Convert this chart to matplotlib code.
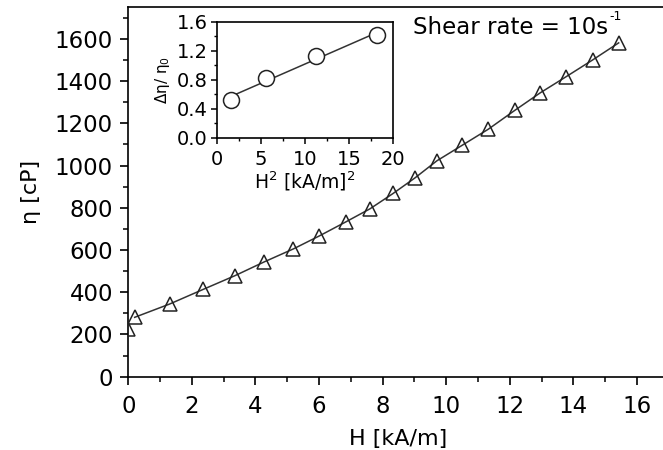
import numpy as np
import matplotlib
matplotlib.use('Agg')
import matplotlib.pyplot as plt
from matplotlib.ticker import MultipleLocator

# main curve: viscosity vs field
H = [0.0, 0.2, 1.3, 2.35, 3.35, 4.28, 5.19, 6.0, 6.84, 7.6,
     8.33, 9.02, 9.7, 10.5, 11.32, 12.16, 12.95, 13.76, 14.6, 15.42]
eta = [228, 281, 344, 413, 478, 544, 605, 666, 733, 795,
       868, 942, 1022, 1096, 1172, 1262, 1344, 1420, 1500, 1581]

# inset: relative viscosity change vs H^2
H2 = [1.59, 5.55, 11.2, 18.2]
d_eta = [0.52, 0.82, 1.12, 1.42]

plt.rcParams['font.family'] = 'DejaVu Sans'
plt.rcParams['axes.linewidth'] = 1.2

fig = plt.figure(figsize=(6.63, 4.5), dpi=100)

# main axes (right spine falls off the canvas, as in the reference)
ax = fig.add_axes([0.1935, 0.163, 0.8154, 0.821])
ax.plot(H[1:], eta[1:], color='#333333', lw=1.1, zorder=2)
ax.plot(H, eta, linestyle='none', marker='^', ms=9.5, mfc='none',
        mec='#222222', mew=1.1, zorder=3)
ax.set_xlim(0, 17)
ax.set_ylim(0, 1750)
ax.xaxis.set_major_locator(MultipleLocator(2))
ax.xaxis.set_minor_locator(MultipleLocator(1))
ax.yaxis.set_major_locator(MultipleLocator(200))
ax.yaxis.set_minor_locator(MultipleLocator(100))
ax.tick_params(which='major', direction='out', length=6, width=1.2,
               labelsize=16.5, pad=5)
ax.tick_params(which='minor', direction='out', length=3.5, width=1.1)
ax.tick_params(axis='x', pad=7)
ax.spines['right'].set_visible(False)
ax.set_xlabel('H [kA/m]', fontsize=16, labelpad=8)
ax.set_ylabel('η [cP]', fontsize=16, labelpad=10)
ax.text(8.95, 1655, 'Shear rate = 10s', fontsize=16.5,
        ha='left', va='center')
ax.text(15.12, 1735, '-1', fontsize=9, ha='left', va='top')

# inset
ins = fig.add_axes([0.3268, 0.694, 0.2664, 0.2578])
fit = np.polyfit(H2, d_eta, 1)
xs = np.array([H2[0], H2[-1]])
ins.plot(xs, np.polyval(fit, xs), color='#333333', lw=1.1, zorder=2)
ins.plot(H2, d_eta, linestyle='none', marker='o', ms=11.5, mfc='white',
         mec='#222222', mew=1.1, zorder=3)
ins.set_xlim(0, 20)
ins.set_ylim(0, 1.6)
ins.xaxis.set_major_locator(MultipleLocator(5))
ins.xaxis.set_minor_locator(MultipleLocator(2.5))
ins.yaxis.set_major_locator(MultipleLocator(0.4))
ins.yaxis.set_minor_locator(MultipleLocator(0.2))
ins.tick_params(which='major', direction='out', length=4.5, width=1.1,
                labelsize=14, pad=2)
ins.tick_params(which='minor', direction='out', length=2.5, width=1.0)
ins.tick_params(axis='x', pad=4)
ins.set_xlabel('H$^2$ [kA/m]$^2$', fontsize=13.5, labelpad=1)
ins.set_ylabel('Δη/ η$_0$', fontsize=11, labelpad=3)

fig.savefig('out.png', dpi=100)
